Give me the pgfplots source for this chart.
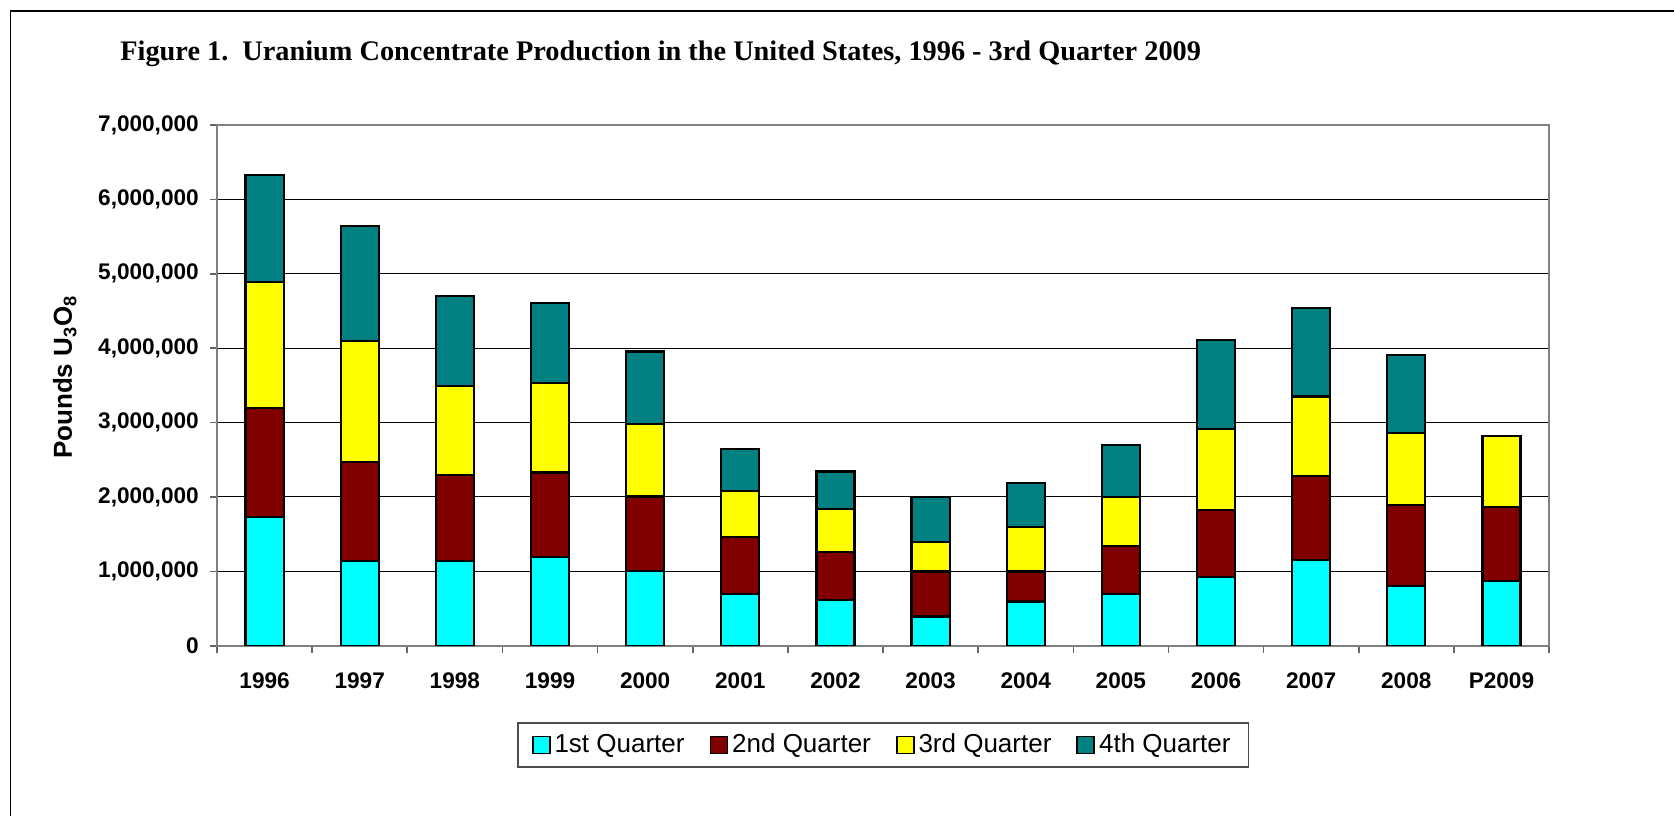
\documentclass[border=0pt]{standalone}
\usepackage{pgfplots}
\pgfplotsset{compat=1.18}
\usepackage{fontspec}
\setmainfont{Liberation Sans}
\newfontfamily\titlefont{Liberation Serif}
\definecolor{q1}{HTML}{00FFFF}
\definecolor{q2}{HTML}{800000}
\definecolor{q3}{HTML}{FFFF00}
\definecolor{q4}{HTML}{008080}
\definecolor{axgray}{HTML}{808080}
\begin{document}
\begin{tikzpicture}
\begin{axis}[
  at={(108.5pt,84.65pt)}, anchor=south west,
  scale only axis, width=666pt, height=260.35pt,
  ybar stacked, bar width=0.4,
  xmin=-0.5, xmax=13.5, ymin=0, ymax=7000000,
  xtick={-0.5,0.5,1.5,2.5,3.5,4.5,5.5,6.5,7.5,8.5,9.5,10.5,11.5,12.5,13.5},
  x tick label as interval,
  xticklabels={1996,1997,1998,1999,2000,2001,2002,2003,2004,2005,2006,2007,2008,P2009},
  ytick={0,1000000,2000000,3000000,4000000,5000000,6000000,7000000},
  yticklabels={0,{1,000,000},{2,000,000},{3,000,000},{4,000,000},{5,000,000},{6,000,000},{7,000,000}},
  scaled y ticks=false,
  tick align=outside, major tick length=3.6pt,
  xtick pos=lower, ytick pos=left,
  tick style={draw=axgray!80!black, line width=0.8pt},
  ymajorgrids, grid style={black, line width=0.5pt},
  axis line style={draw=axgray, line width=1pt},
  xticklabel style={font=\bfseries\fontsize{11.3}{13}\selectfont, anchor=base, yshift=-18pt},
  yticklabel style={font=\bfseries\fontsize{11.3}{13}\selectfont, anchor=east, xshift=-2pt},
  legend columns=4,
  legend style={at={(0.5002,-0.1907)}, anchor=center, draw=black!70, line width=0.8pt,
    font=\fontsize{13}{15}\selectfont, inner xsep=7pt, inner ysep=3.5pt,
    /tikz/every even column/.append style={column sep=10.5pt}},
  legend image code/.code={\draw[#1, draw=black, line width=0.8pt] (0pt,-4.25pt) rectangle (8.5pt,4.25pt);},
]
\addplot[fill=q1, draw=black, line width=1.1pt] coordinates {
 (0,1733000) (1,1142000) (2,1142000) (3,1190000) (4,1008000) (5,700000) (6,614000)
 (7,393000) (8,595000) (9,700000) (10,926000) (11,1157000) (12,807000) (13,869000)};
\addplot[fill=q2, draw=black, line width=1.1pt] coordinates {
 (0,1464000) (1,1330000) (2,1153000) (3,1138000) (4,998000) (5,759000) (6,648000)
 (7,605000) (8,403000) (9,644000) (10,898000) (11,1127000) (12,1080000) (13,993000)};
\addplot[fill=q3, draw=black, line width=1.1pt] coordinates {
 (0,1690000) (1,1623000) (2,1200000) (3,1200000) (4,970000) (5,619000) (6,581000)
 (7,399000) (8,595000) (9,658000) (10,1085000) (11,1066000) (12,973000) (13,961000)};
\addplot[fill=q4, draw=black, line width=1.1pt] coordinates {
 (0,1436000) (1,1546000) (2,1210000) (3,1081000) (4,979000) (5,562000) (6,499000)
 (7,600000) (8,591000) (9,691000) (10,1196000) (11,1187000) (12,1043000)};
\legend{1st Quarter,2nd Quarter,3rd Quarter,4th Quarter}
\end{axis}
\node[anchor=base west, inner sep=0pt, font=\titlefont\bfseries\fontsize{14.15}{17}\selectfont]
  at (60pt,377pt) {Figure 1.\ \ Uranium Concentrate Production in the United States, 1996 - 3rd Quarter 2009};
\node[rotate=90, inner sep=0pt, font=\bfseries\fontsize{13}{15}\selectfont]
  at (32.4pt,219pt) {Pounds U\textsubscript{3}O\textsubscript{8}};
\draw[black, line width=0.6pt] (5.35pt,-20pt) -- (5.35pt,402pt) -- (860pt,402pt);
\pgfresetboundingbox
\useasboundingbox (0pt,0pt) rectangle (837pt,407.5pt);
\end{tikzpicture}
\end{document}
